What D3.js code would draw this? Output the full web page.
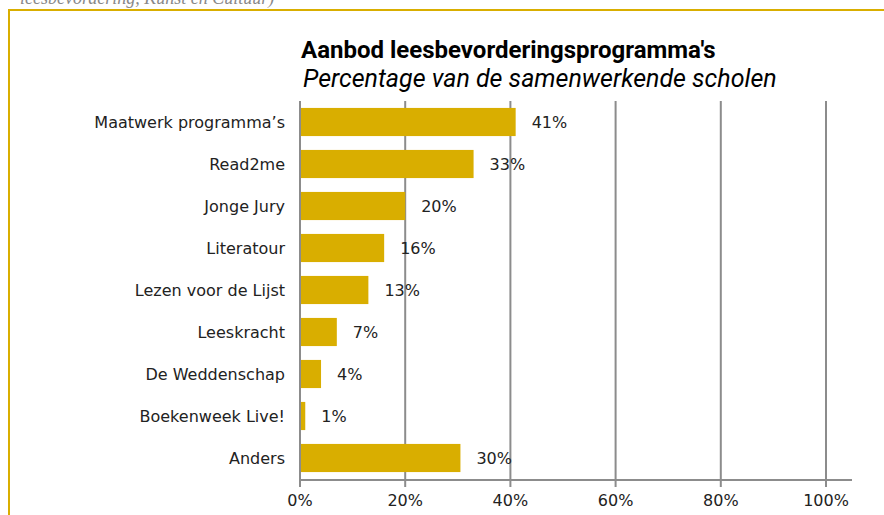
<!DOCTYPE html>
<html>
<head>
<meta charset="utf-8">
<script src="https://cdn.jsdelivr.net/npm/d3@7"></script>
<style>
  html, body { margin: 0; padding: 0; background: #fff; }
  svg { display: block; }
</style>
</head>
<body>
<div id="chart"></div>
<script>
// chart data
var categories = [
    "Maatwerk programma\u2019s", "Read2me", "Jonge Jury", "Literatour",
    "Lezen voor de Lijst", "Leeskracht", "De Weddenschap",
    "Boekenweek Live!", "Anders"
];
var values = [41, 33, 20, 16, 13, 7, 4, 1, 30.5];
var labels = ["41%", "33%", "20%", "16%", "13%", "7%", "4%", "1%", "30%"];
var tickValues = [0, 20, 40, 60, 80, 100];

var title = "Aanbod leesbevorderingsprogramma's";
var subtitle = "Percentage van de samenwerkende scholen";

var width = 884, height = 515;
var gold = "#d9ae00", grid = "#8c8c8c";
var labelFont = "DejaVu Sans, Verdana, sans-serif";

var svg = d3.select("#chart").append("svg")
    .attr("width", width)
    .attr("height", height);

// cut-off text of the page above the box
svg.append("text")
    .attr("x", 20)
    .attr("y", 4)
    .attr("fill", "#888")
    .attr("font-family", "Liberation Serif, serif")
    .attr("font-style", "italic")
    .attr("font-size", 18)
    .text("leesbevordering, Kunst en Cultuur)");

// frame
svg.append("path")
    .attr("d", "M9," + (height + 5) + " L9,10 L" + (width + 5) + ",10")
    .attr("fill", "none")
    .attr("stroke", gold)
    .attr("stroke-width", 2);

var x = d3.scaleLinear().domain([0, 100]).range([300, 826]);
var y = d3.scaleBand().domain(categories).range([101, 479])
    .paddingInner(0.33).paddingOuter(0.165);
var axisY = 480;

// gridlines
svg.append("g").selectAll("line")
    .data(tickValues)
    .enter().append("line")
    .attr("x1", d => x(d)).attr("x2", d => x(d))
    .attr("y1", 101).attr("y2", axisY + 7)
    .attr("stroke", grid)
    .attr("stroke-width", 2);

// x axis line
svg.append("line")
    .attr("x1", x(0) - 1).attr("x2", 852)
    .attr("y1", axisY).attr("y2", axisY)
    .attr("stroke", grid)
    .attr("stroke-width", 2);

// tick labels
svg.append("g").selectAll("text")
    .data(tickValues)
    .enter().append("text")
    .attr("x", d => x(d))
    .attr("y", 506)
    .attr("text-anchor", "middle")
    .attr("font-family", labelFont)
    .attr("font-size", 16)
    .attr("fill", "#222")
    .text(d => d + "%");

// bars
svg.append("g").selectAll("rect")
    .data(values)
    .enter().append("rect")
    .attr("x", x(0) + 1)
    .attr("y", (d, i) => y(categories[i]))
    .attr("width", d => x(d) - x(0) - 1)
    .attr("height", y.bandwidth())
    .attr("fill", gold);

// value labels
svg.append("g").selectAll("text")
    .data(values)
    .enter().append("text")
    .attr("x", d => x(d) + 16)
    .attr("y", (d, i) => y(categories[i]) + y.bandwidth() / 2)
    .attr("dy", "0.36em")
    .attr("font-family", labelFont)
    .attr("font-size", 16)
    .attr("fill", "#222")
    .text((d, i) => labels[i]);

// category labels
svg.append("g").selectAll("text")
    .data(categories)
    .enter().append("text")
    .attr("x", 285)
    .attr("y", d => y(d) + y.bandwidth() / 2)
    .attr("dy", "0.36em")
    .attr("text-anchor", "end")
    .attr("font-family", labelFont)
    .attr("font-size", 16)
    .attr("fill", "#222")
    .text(d => d);

// titles
svg.append("text")
    .attr("x", 301)
    .attr("y", 58)
    .attr("font-family", "Roboto, sans-serif")
    .attr("font-weight", "bold")
    .attr("font-size", 24)
    .attr("fill", "#000")
    .text(title);

svg.append("text")
    .attr("x", 303)
    .attr("y", 87)
    .attr("font-family", "Roboto, sans-serif")
    .attr("font-style", "italic")
    .attr("font-size", 25)
    .attr("fill", "#000")
    .text(subtitle);
</script>
</body>
</html>
